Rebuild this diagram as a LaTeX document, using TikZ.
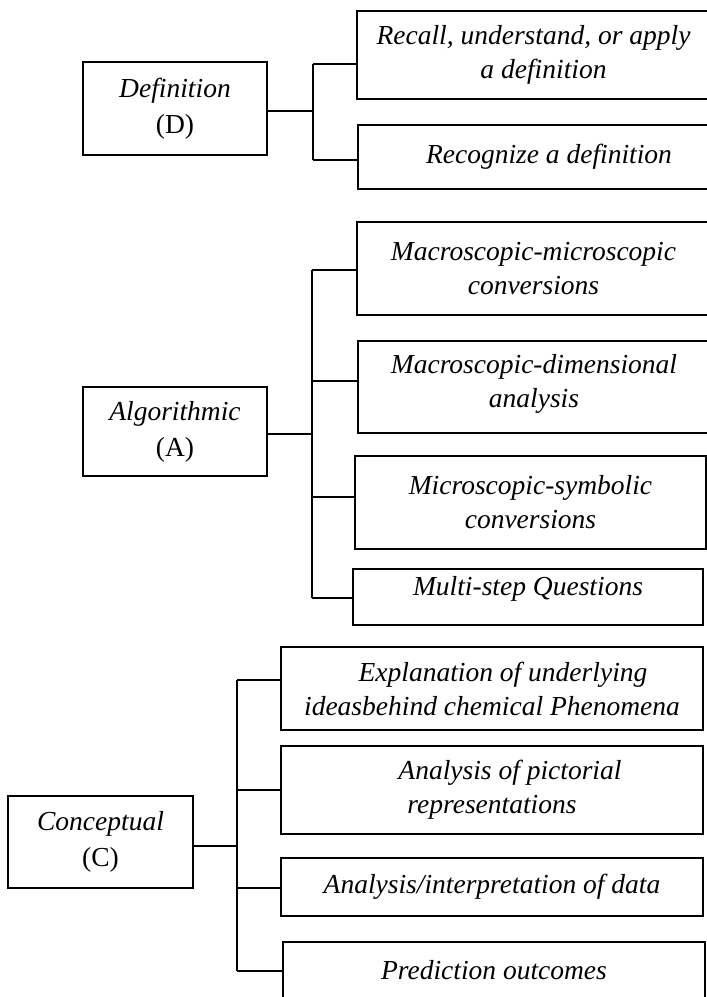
\documentclass[tikz,border=0pt]{standalone}
\usepackage{fontspec}
\setmainfont{Liberation Serif}
\begin{document}
\begin{tikzpicture}[x=1pt,y=-1pt,
  box/.style={draw=black, line width=1.9pt, rectangle, inner sep=0pt, align=center,
    font=\fontsize{27.5}{34}\selectfont\itshape},
  link/.style={draw=black, line width=1.9pt}]
\useasboundingbox (0,0) rectangle (707,997);
\fill[white] (0,0) rectangle (707,997);

% ---------- Definition ----------
\node[box, minimum width=184, minimum height=93] (dp) at (175,108.5)
  {Definition\\[2pt]\upshape (D)};
\node[box, minimum width=373, minimum height=88] (d1) at (543.5,55)
  {Recall, understand, or apply\hspace*{20pt}\\a definition};
\node[box, minimum width=372, minimum height=64] (d2) at (544,157)
  {\hspace*{10pt}Recognize a definition};
\coordinate (dmid) at (313,111);
\coordinate (dtop) at (313,64);
\coordinate (dbot) at (313,160);
\draw[link] (dp.east |- dmid) -- (dmid);
\draw[link] (dtop) -- (dbot);
\draw[link] (dtop) -- (d1.west |- dtop);
\draw[link] (dbot) -- (d2.west |- dbot);

% ---------- Algorithmic ----------
\node[box, minimum width=184, minimum height=89] (ap) at (175,431.5)
  {Algorithmic\\[2pt]\upshape (A)};
\node[box, minimum width=353, minimum height=93] (a1) at (533.5,268.5)
  {Macroscopic-microscopic\\conversions};
\node[box, minimum width=352, minimum height=92] (a2) at (534,387)
  {\raisebox{3pt}[\height][\depth]{\begin{tabular}{@{}c@{}}Macroscopic-dimensional\\analysis\end{tabular}}};
\node[box, minimum width=351, minimum height=93] (a3) at (530.5,502.5)
  {Microscopic-symbolic\\conversions};
\node[box, minimum width=350, minimum height=56] (a4) at (528,597)
  {\raisebox{8pt}[\height][\depth]{Multi-step Questions}};
\coordinate (amid) at (312,434);
\coordinate (atop) at (312,270);
\coordinate (abot) at (312,598);
\draw[link] (ap.east |- amid) -- (amid);
\draw[link] (atop) -- (abot);
\draw[link] (atop) -- (a1.west |- atop);
\draw[link] (312,381) -- (a2.west |- 0,381);
\draw[link] (312,497) -- (a3.west |- 0,497);
\draw[link] (abot) -- (a4.west |- abot);

% ---------- Conceptual ----------
\node[box, minimum width=185, minimum height=92] (cp) at (100.5,842)
  {Conceptual\\[2pt]\upshape (C)};
\node[box, minimum width=422, minimum height=83] (c1) at (492,688.5)
  {\hspace*{22pt}Explanation of underlying\\ideasbehind chemical Phenomena};
\node[box, minimum width=422, minimum height=88] (c2) at (492,790)
  {\hspace*{36pt}Analysis of pictorial\\representations};
\node[box, minimum width=422, minimum height=58] (c3) at (492,887)
  {Analysis/interpretation of data};
\node[box, minimum width=422, minimum height=68] (c4) at (494,976)
  {\raisebox{6pt}[\height][\depth]{Prediction outcomes}};
\coordinate (cmid) at (237,846);
\coordinate (ctop) at (237,680);
\coordinate (cbot) at (237,971);
\draw[link] (cp.east |- cmid) -- (cmid);
\draw[link] (ctop) -- (cbot);
\draw[link] (ctop) -- (c1.west |- ctop);
\draw[link] (237,790) -- (c2.west |- 0,790);
\draw[link] (237,888) -- (c3.west |- 0,888);
\draw[link] (cbot) -- (c4.west |- cbot);
\end{tikzpicture}
\end{document}
